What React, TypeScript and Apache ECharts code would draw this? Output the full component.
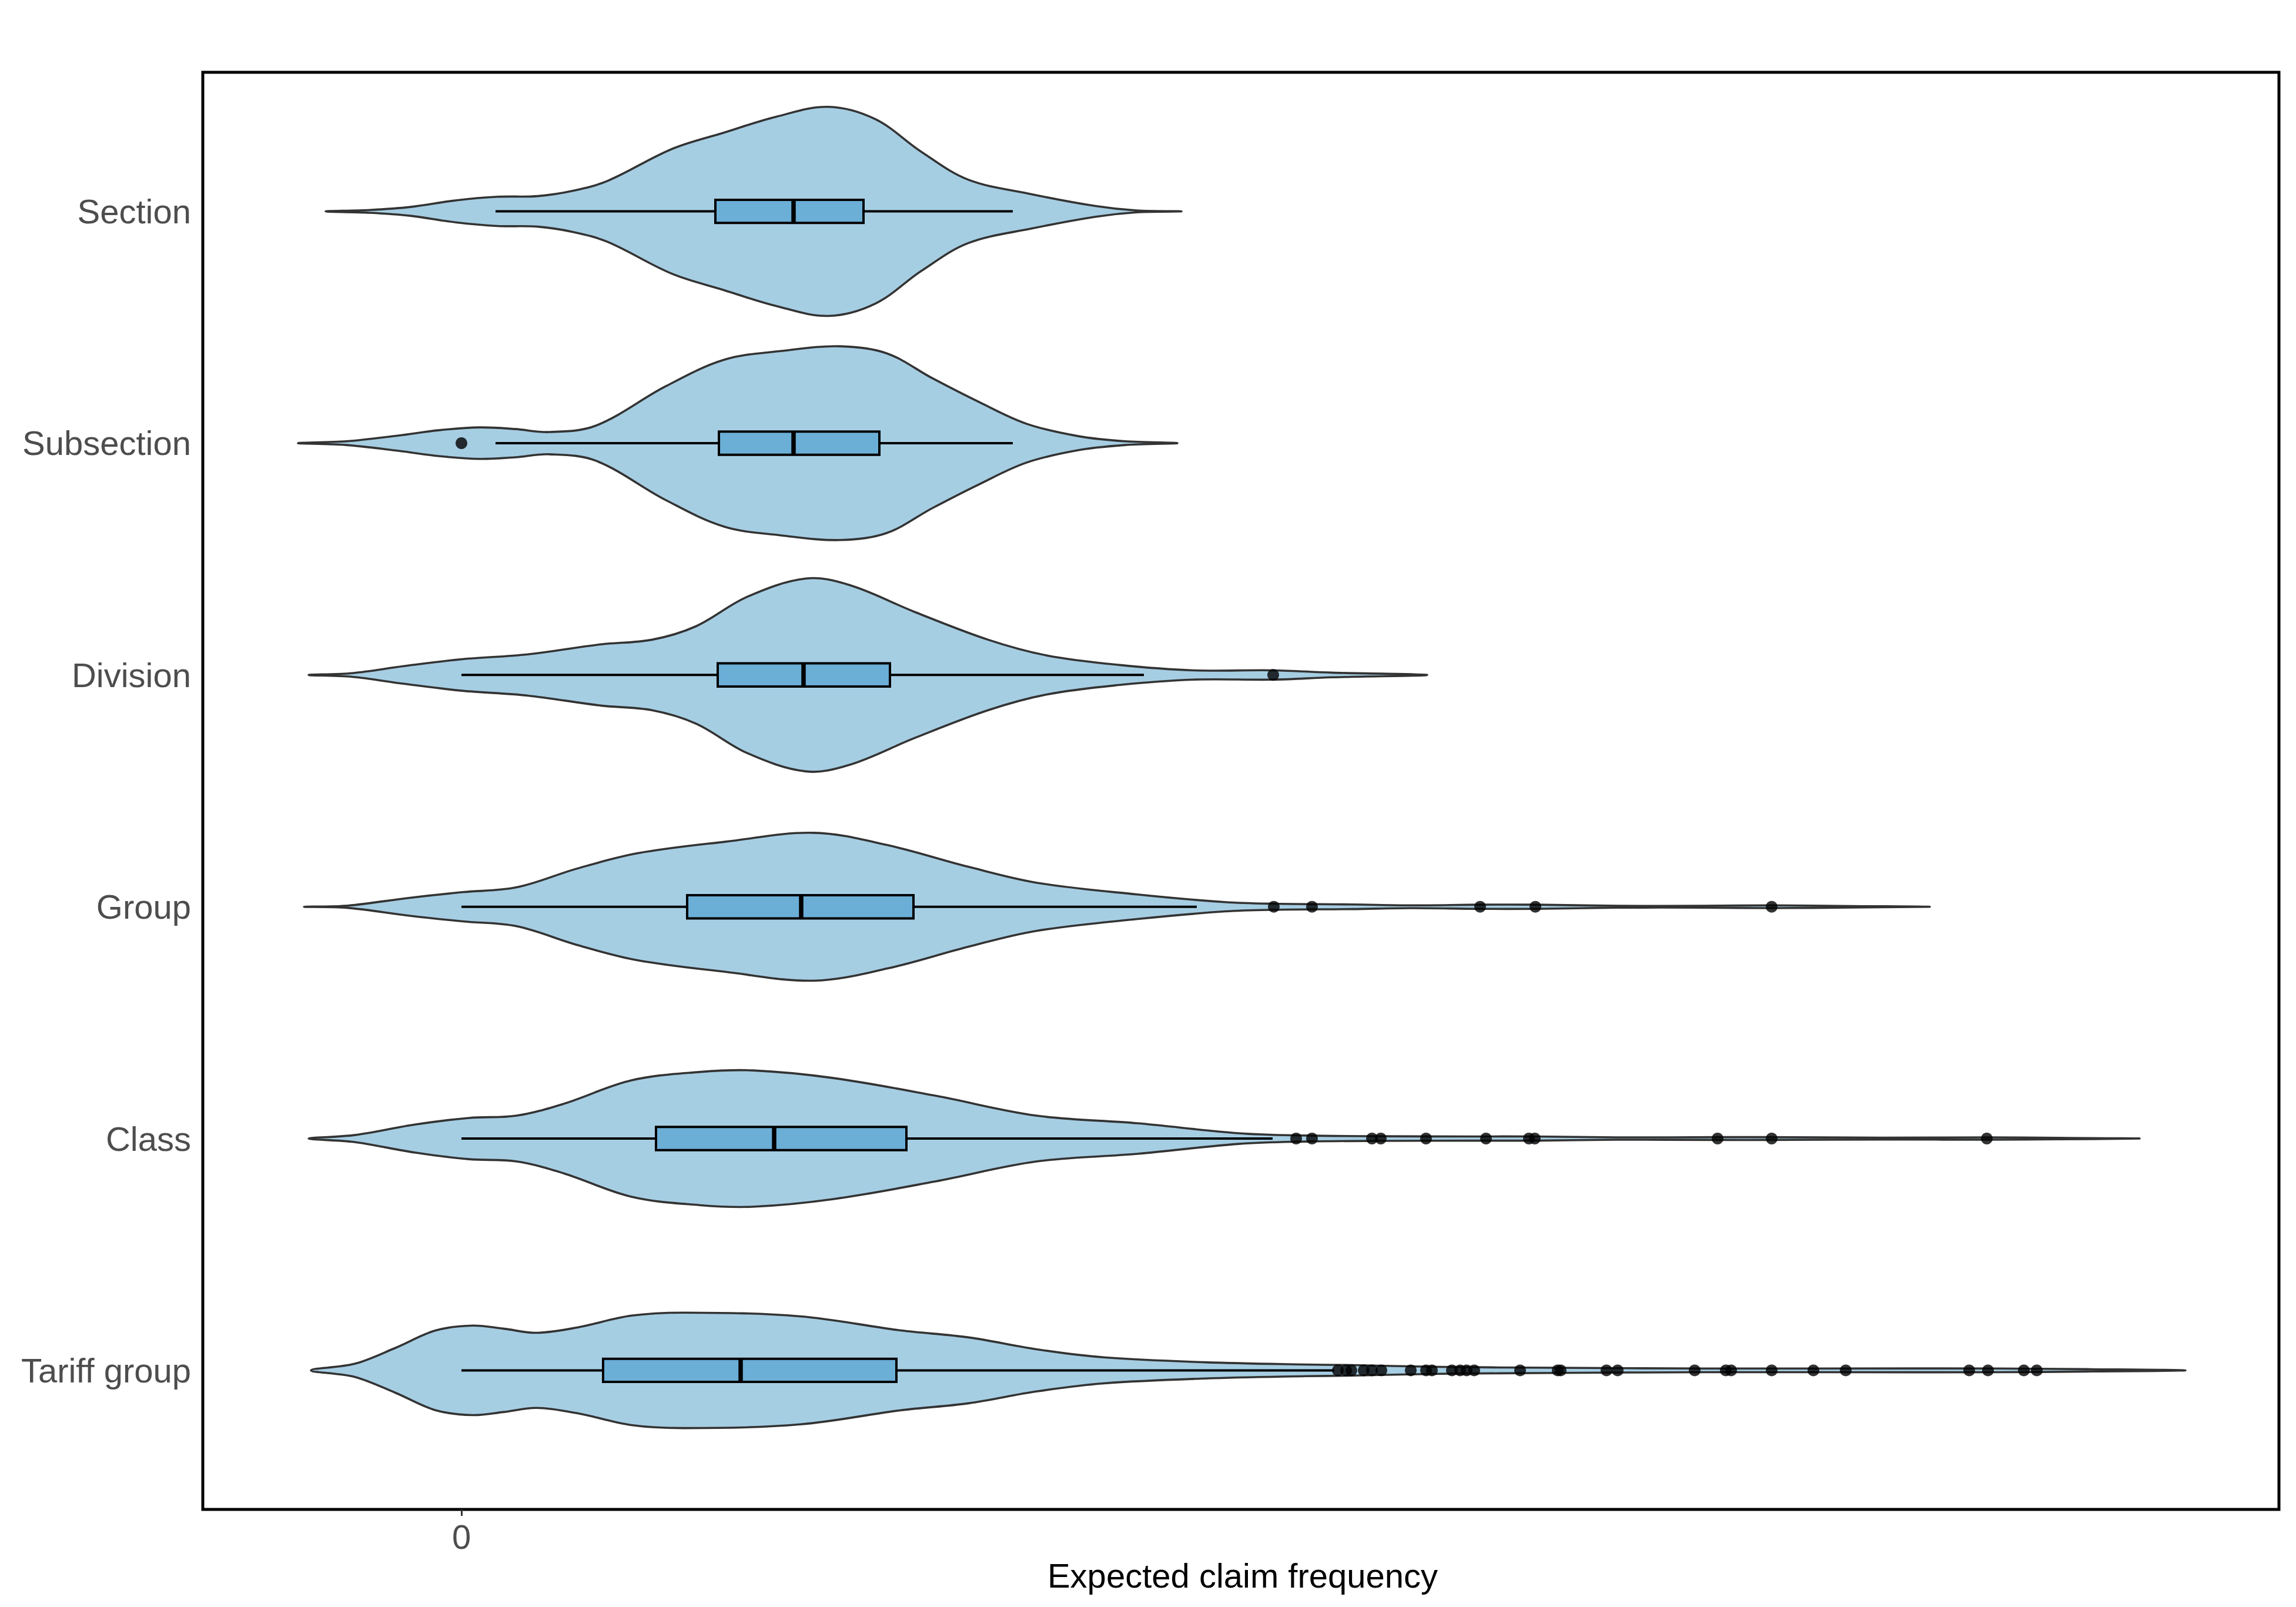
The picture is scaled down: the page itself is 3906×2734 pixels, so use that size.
import React, { useEffect, useRef } from 'react';
import * as echarts from 'echarts';

const W = 3906;
const H = 2734;

const categories = ['Section', 'Subsection', 'Division', 'Group', 'Class', 'Tariff group'];
const xTickValues = [0];
const xTitle = 'Expected claim frequency';

// Violin outlines: x values and half-widths (in category units)
const sectionX = [-0.0231, -0.0156, -0.0087, -0.0008, 0.0061, 0.0130, 0.0190, 0.0249, 0.0358, 0.0447, 0.0535, 0.0624, 0.0704, 0.0783, 0.0862, 0.0970, 0.1079, 0.1148, 0.1225];
const sectionW = [0, 0.006, 0.019, 0.048, 0.063, 0.066, 0.089, 0.132, 0.269, 0.340, 0.408, 0.451, 0.398, 0.256, 0.137, 0.074, 0.023, 0.004, 0];

const subsectionX = [-0.0278, -0.0196, -0.0107, -0.0038, 0.0031, 0.0091, 0.0150, 0.0229, 0.0348, 0.0447, 0.0545, 0.0644, 0.0723, 0.0802, 0.0881, 0.0961, 0.1050, 0.1129, 0.1218];
const subsectionW = [0, 0.008, 0.033, 0.056, 0.068, 0.061, 0.048, 0.076, 0.246, 0.360, 0.398, 0.418, 0.388, 0.279, 0.177, 0.084, 0.030, 0.008, 0];

const divisionX = [-0.0260, -0.0186, -0.0098, 0.0001, 0.0113, 0.0237, 0.0324, 0.0399, 0.0486, 0.0586, 0.0660, 0.0772, 0.0896, 0.0996, 0.1120, 0.1245, 0.1381, 0.1481, 0.1643];
const divisionW = [0, 0.008, 0.038, 0.068, 0.089, 0.132, 0.152, 0.210, 0.337, 0.416, 0.388, 0.271, 0.152, 0.084, 0.043, 0.020, 0.020, 0.010, 0];

const groupX = [-0.0268, -0.0193, -0.0090, 0.0002, 0.0094, 0.0197, 0.0300, 0.0450, 0.0599, 0.0725, 0.0863, 0.0978, 0.1150, 0.1299, 0.1380, 0.1515, 0.1615, 0.1733, 0.1827, 0.1965, 0.2115, 0.2229, 0.2365, 0.2498];
const groupW = [0, 0.005, 0.038, 0.063, 0.084, 0.165, 0.231, 0.281, 0.319, 0.266, 0.172, 0.104, 0.053, 0.020, 0.013, 0.010, 0.006, 0.009, 0.009, 0.004, 0.004, 0.006, 0.003, 0];

const classX = [-0.0260, -0.0182, -0.0078, 0.0013, 0.0094, 0.0174, 0.0289, 0.0404, 0.0496, 0.0633, 0.0806, 0.0978, 0.1150, 0.1322, 0.1437, 0.1565, 0.1715, 0.1825, 0.1965, 0.2139, 0.2228, 0.2415, 0.2599, 0.2715, 0.2855];
const classW = [0, 0.015, 0.061, 0.089, 0.099, 0.150, 0.251, 0.287, 0.294, 0.261, 0.185, 0.099, 0.066, 0.023, 0.013, 0.010, 0.009, 0.009, 0.005, 0.006, 0.006, 0.004, 0.005, 0.003, 0];

const tariffX = [-0.0256, -0.0182, -0.0113, -0.0044, 0.0019, 0.0071, 0.0128, 0.0197, 0.0289, 0.0381, 0.0576, 0.0748, 0.0863, 0.0978, 0.1093, 0.1265, 0.1437, 0.1506, 0.1665, 0.1865, 0.2115, 0.2315, 0.2615, 0.2765, 0.2933];
const tariffW = [0, 0.028, 0.096, 0.172, 0.193, 0.180, 0.162, 0.185, 0.236, 0.249, 0.233, 0.172, 0.142, 0.091, 0.056, 0.035, 0.025, 0.023, 0.015, 0.011, 0.008, 0.008, 0.008, 0.005, 0];

// Box plot statistics
const boxLow = [0.0058, 0.0058, 0.0, 0.0, 0.0, 0.0];
const boxQ1 = [0.0432, 0.0438, 0.0436, 0.0384, 0.0331, 0.0241];
const boxMedian = [0.0565, 0.0565, 0.0582, 0.0578, 0.0532, 0.0475];
const boxQ3 = [0.0684, 0.0711, 0.0729, 0.0769, 0.0757, 0.0740];
const boxHigh = [0.0938, 0.0938, 0.1161, 0.1251, 0.1380, 0.1485];

// Outliers
const outSection: number[] = [];
const outSubsection = [0.0];
const outDivision = [0.1381];
const outGroup = [0.1382, 0.1447, 0.1733, 0.1827, 0.2229];
const outClass = [0.1420, 0.1447, 0.1549, 0.1564, 0.1641, 0.1743, 0.1816, 0.1826, 0.2137, 0.2229, 0.2595];
const outTariff = [0.1491, 0.1505, 0.1514, 0.1535, 0.1549, 0.1565, 0.1615, 0.1641, 0.1651, 0.1685, 0.1699, 0.1710, 0.1723, 0.1801, 0.1865, 0.1870, 0.1948, 0.1967, 0.2098, 0.2151, 0.2160, 0.2229, 0.2300, 0.2355, 0.2565, 0.2597, 0.2658, 0.2680];

const violinX = [sectionX, subsectionX, divisionX, groupX, classX, tariffX];
const violinW = [sectionW, subsectionW, divisionW, groupW, classW, tariffW];
const outliers = [outSection, outSubsection, outDivision, outGroup, outClass, outTariff];

const FONT = '"Liberation Sans", Arial, Helvetica, sans-serif';

const GRID_LEFT = 345;
const GRID_RIGHT = 29;
const GRID_TOP = 123;
const GRID_BOTTOM = 166;

export default function App() {
  const ref = useRef<HTMLDivElement>(null);

  useEffect(() => {
    document.body.style.margin = '0';
    const el = ref.current!;
    const chart = echarts.init(el, null, { renderer: 'svg', width: W, height: H });

    const n = categories.length;
    const positions = categories.map((_, i) => n - i);
    const nameByPos: Record<number, string> = {};
    categories.forEach((c, i) => { nameByPos[positions[i]] = c; });

    const scatterData: number[][] = [];
    outliers.forEach((arr, i) => arr.forEach((v) => scatterData.push([v, positions[i]])));

    const option: any = {
      animation: false,
      backgroundColor: '#ffffff',
      grid: {
        left: GRID_LEFT,
        right: GRID_RIGHT,
        top: GRID_TOP,
        bottom: GRID_BOTTOM,
        show: true,
        borderColor: '#000000',
        borderWidth: 5,
        backgroundColor: 'transparent',
        containLabel: false,
        outerBoundsMode: 'none',
      },
      graphic: [
        {
          type: 'text',
          x: (GRID_LEFT + (W - GRID_RIGHT)) / 2 + 3,
          y: 2680,
          style: {
            text: xTitle,
            x: 0,
            y: 0,
            align: 'center',
            verticalAlign: 'middle',
            fontSize: 58,
            fontFamily: FONT,
            fill: '#000000',
          },
        },
      ],
      xAxis: {
        type: 'value',
        min: -0.044,
        max: 0.3092,
        axisLine: { show: false },
        splitLine: { show: false },
        axisTick: {
          show: true,
          customValues: xTickValues,
          length: 11,
          lineStyle: { color: '#333333', width: 3 },
        },
        axisLabel: {
          customValues: xTickValues,
          margin: 17,
          fontSize: 58,
          color: '#4D4D4D',
          fontFamily: FONT,
          formatter: (v: number) => String(v),
        },
      },
      yAxis: {
        type: 'value',
        min: 0.4,
        max: 6.6,
        axisLine: { show: false },
        splitLine: { show: false },
        axisTick: {
          show: true,
          customValues: positions,
          length: 11,
          lineStyle: { color: '#333333', width: 3 },
        },
        axisLabel: {
          customValues: positions,
          margin: 20,
          fontSize: 58,
          color: '#4D4D4D',
          fontFamily: FONT,
          formatter: (v: number) => nameByPos[Math.round(v)] || '',
        },
      },
      series: [
        {
          type: 'custom',
          name: 'violin',
          z: 1,
          data: categories.map((_, i) => [boxMedian[i], positions[i]]),
          encode: { x: 0, y: 1 },
          renderItem: (params: any, api: any) => {
            const i = params.dataIndex;
            const xs = violinX[i];
            const ws = violinW[i];
            const p = positions[i];
            const upper = xs.map((x, k) => api.coord([x, p + ws[k]]));
            const lower: number[][] = [];
            for (let k = xs.length - 2; k >= 1; k--) lower.push(api.coord([xs[k], p - ws[k]]));
            return {
              type: 'polygon',
              shape: { points: upper.concat(lower), smooth: 0.35 },
              style: { fill: '#A6CEE3', stroke: '#333333', lineWidth: 3.6, lineJoin: 'round' },
            };
          },
        },
        {
          type: 'custom',
          name: 'box',
          z: 2,
          data: categories.map((_, i) => [boxMedian[i], positions[i]]),
          encode: { x: 0, y: 1 },
          renderItem: (params: any, api: any) => {
            const i = params.dataIndex;
            const p = positions[i];
            const lo = api.coord([boxLow[i], p]);
            const hi = api.coord([boxHigh[i], p]);
            const a = api.coord([boxQ1[i], p + 0.05]);
            const b = api.coord([boxQ3[i], p - 0.05]);
            const m1 = api.coord([boxMedian[i], p + 0.05]);
            const m2 = api.coord([boxMedian[i], p - 0.05]);
            return {
              type: 'group',
              children: [
                {
                  type: 'line',
                  shape: { x1: lo[0], y1: lo[1], x2: hi[0], y2: hi[1] },
                  style: { stroke: '#000000', lineWidth: 4 },
                },
                {
                  type: 'rect',
                  shape: { x: a[0], y: a[1], width: b[0] - a[0], height: b[1] - a[1] },
                  style: { fill: '#6BAED6', stroke: '#000000', lineWidth: 4 },
                },
                {
                  type: 'line',
                  shape: { x1: m1[0], y1: m1[1], x2: m2[0], y2: m2[1] },
                  style: { stroke: '#000000', lineWidth: 7.5 },
                },
              ],
            };
          },
        },
        {
          type: 'scatter',
          name: 'outliers',
          z: 3,
          symbol: 'circle',
          symbolSize: 20,
          itemStyle: { color: '#000000' },
          data: scatterData,
        },
      ],
    };

    chart.setOption(option);
    return () => chart.dispose();
  }, []);

  return (
    <div
      ref={ref}
      style={{ position: 'absolute', left: 0, top: 0, width: W, height: H, background: '#ffffff' }}
    />
  );
}
